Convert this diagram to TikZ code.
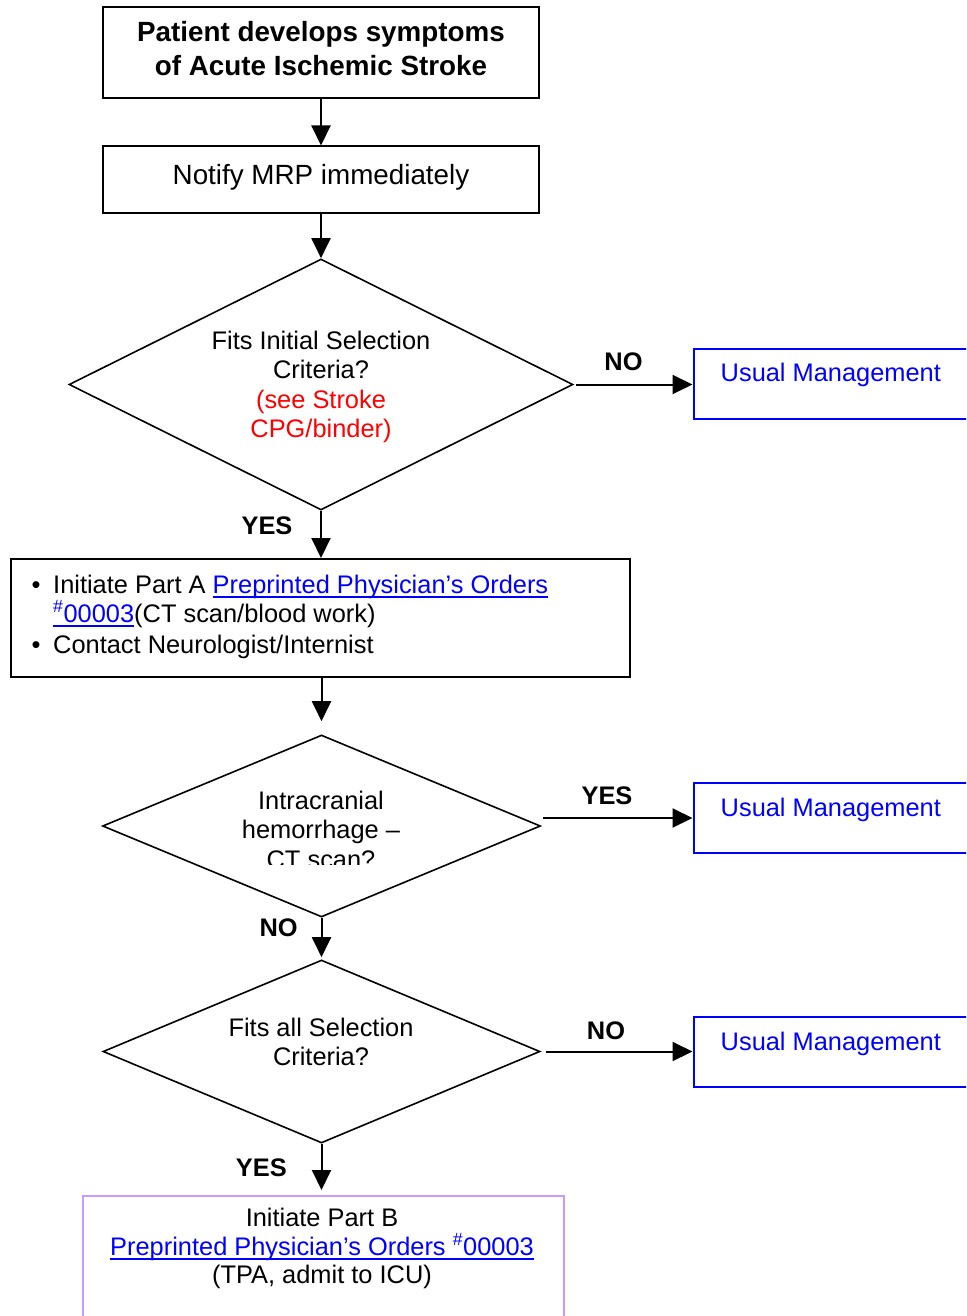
\documentclass[tikz,border=0pt]{standalone}
\usepackage{fontspec}
\setmainfont{Liberation Sans}
\usetikzlibrary{shapes.geometric,arrows.meta,calc}
\definecolor{linkblue}{RGB}{0,0,255}
\definecolor{umblue}{RGB}{0,0,255}
\definecolor{critred}{RGB}{255,0,0}
\definecolor{lavender}{RGB}{204,153,255}
\newcommand{\ulk}[1]{\textcolor{linkblue}{\setbox0=\hbox{#1}\rlap{\rule[-4.5pt]{\wd0}{2pt}}\box0}}
\begin{document}
\begin{tikzpicture}[x=1pt,y=-1pt,
  box/.style={draw=black, line width=2pt, inner sep=0pt, rectangle},
  decision/.style={draw=black, diamond, line width=1.6pt, inner sep=0pt},
  umbox/.style={draw=umblue, line width=2pt, inner sep=0pt, rectangle},
  arr/.style={draw=black, line width=2pt, -{Triangle[length=20pt,width=19pt]}},
  lbl/.style={font=\fontsize{25.4}{29.3}\selectfont\bfseries, inner sep=0pt, anchor=base},
  txt/.style={font=\fontsize{25.4}{29.3}\selectfont, inner sep=0pt, align=center, anchor=base},
  umtxt/.style={font=\fontsize{25.4}{29.3}\selectfont, inner sep=0pt, anchor=base west, text=umblue},
]
\clip (0,0) rectangle (966,1316);
\fill[white] (0,0) rectangle (966,1316);

% shapes
\node[box, minimum width=436, minimum height=91] (b1) at (321,52.5) {};
\node[box, minimum width=436, minimum height=66] (b2) at (321,179.5) {};
\node[decision, minimum width=504, minimum height=251] (d1) at (321,384.5) {};
\node[umbox, anchor=north west, minimum width=300, minimum height=70] (u1) at (692.5,347.5) {};
\node[box, anchor=north west, minimum width=619, minimum height=118] (b3) at (10,558) {};
\node[decision, minimum width=438, minimum height=182] (d2) at (321.5,826) {};
\node[umbox, anchor=north west, minimum width=300, minimum height=70] (u2) at (692.5,782) {};
\node[decision, minimum width=437, minimum height=183] (d3) at (321.5,1051.5) {};
\node[umbox, anchor=north west, minimum width=300, minimum height=70] (u3) at (692.5,1016) {};
\node[draw=lavender, line width=2pt, inner sep=0pt, anchor=north west, minimum width=481, minimum height=150] (b4) at (82,1195) {};

% texts (base anchor = baseline of the last line)
\node[txt, font=\fontsize{27.8}{33.5}\selectfont\bfseries] (t1) at (321,75.5) {Patient develops symptoms\\of Acute Ischemic Stroke};
\node[txt, font=\fontsize{27.8}{33}\selectfont] (t2) at (321,185) {Notify MRP immediately};
\node[txt] (q1) at (321,437.5) {Fits Initial Selection\\Criteria?\\\textcolor{critred}{(see Stroke}\\\textcolor{critred}{CPG/binder)}};
\node[umtxt] (ut1) at (720.5,381) {Usual Management};
\node[lbl] (l1) at (623.5,370.5) {NO};
\node[lbl] (l2) at (267,534) {YES};

\node[txt] (bul1) at (36,593) {•};
\node[txt, align=left, anchor=base west] (bt1) at (53,622) {Initiate Part A \ulk{Preprinted Physician’s Orders}\\[-0.3pt]\ulk{\textsuperscript{\#}00003}(CT scan/blood work)};
\node[txt] (bul2) at (36,653) {•};
\node[txt, anchor=base west] (bt2) at (53,653) {Contact Neurologist/Internist};

\begin{scope}
  \clip (150,760) rectangle (500,864.5);
  \node[txt] (q2) at (321,868) {Intracranial\\hemorrhage –\\CT scan?};
\end{scope}
\node[lbl] (l3) at (607,804) {YES};
\node[umtxt] (ut2) at (720.5,816.5) {Usual Management};
\node[lbl] (l4) at (278.7,936) {NO};

\node[txt] (q3) at (321,1065.3) {Fits all Selection\\Criteria?};
\node[lbl] (l5) at (606,1039) {NO};
\node[umtxt] (ut3) at (720.5,1050.5) {Usual Management};
\node[lbl] (l6) at (261.4,1176) {YES};

\node[txt, font=\fontsize{25.4}{28.5}\selectfont] (bt4) at (322,1283.5) {Initiate Part B\\\ulk{Preprinted Physician’s Orders \textsuperscript{\#}00003}\\(TPA, admit to ICU)};

% connectors
\draw[arr] (b1.south) -- (b2.north);
\draw[arr] (b2.south) -- (d1.north);
\draw[arr, shorten <=2pt] (d1.east) -- (d1.east -| u1.west);
\draw[arr] (d1.south) -- (b3.north -| d1.south);
\draw[arr, shorten >=13pt] (b3.south -| d2.north) -- (d2.north);
\draw[arr, shorten <=2pt] (d2.east |- u2.west) -- (u2.west);
\draw[arr, shorten >=2pt] (d2.south) -- (d3.north);
\draw[arr, shorten <=5pt] (d3.east) -- (d3.east -| u3.west);
\draw[arr, shorten >=5pt] (d3.south) -- (d3.south |- b4.north);
\end{tikzpicture}
\end{document}
